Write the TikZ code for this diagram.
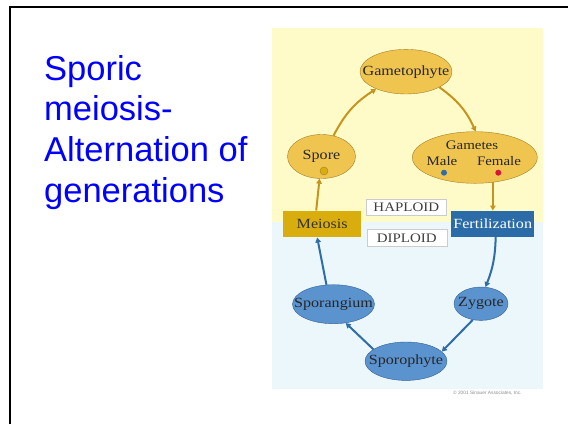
\documentclass[tikz,border=0pt]{standalone}
\usepackage{fontspec}
\setmainfont{Liberation Sans}
\newfontfamily\diagfont[FakeStretch=1.15]{Liberation Serif}
\usetikzlibrary{shapes.geometric,arrows.meta}
\definecolor{titleblue}{RGB}{0,0,255}
\definecolor{haploidbg}{RGB}{255,251,200}
\definecolor{diploidbg}{RGB}{236,247,252}
\definecolor{goldfill}{RGB}{239,197,80}
\definecolor{goldline}{RGB}{160,128,40}
\definecolor{golddark}{RGB}{217,173,14}
\definecolor{goldarrow}{RGB}{196,148,30}
\definecolor{bluefill}{RGB}{91,147,207}
\definecolor{blueline}{RGB}{50,95,145}
\definecolor{bluedark}{RGB}{43,108,168}
\definecolor{bluearrow}{RGB}{46,109,168}
\definecolor{femalered}{RGB}{215,20,60}
\newcommand{\fitin}[1]{\makebox[0pt][c]{#1}}
\tikzset{
  goldell/.style={ellipse, draw=goldline, fill=goldfill, inner sep=0pt, text=black!85, font=\diagfont\fontsize{14}{14}\selectfont},
  blueell/.style={ellipse, draw=blueline, fill=bluefill, inner sep=0pt, text=black!85, font=\diagfont\fontsize{14}{14}\selectfont},
  phasebox/.style={rectangle, draw=black!20, fill=white, inner sep=0pt, minimum width=80pt, text=black!75, font=\diagfont\fontsize{13}{13}\selectfont},
  stepbox/.style={rectangle, inner sep=0pt, font=\diagfont\fontsize{14}{14}\selectfont},
  goldflow/.style={draw=goldarrow, line width=2pt, -{Triangle[length=5pt,width=5.5pt]}},
  blueflow/.style={draw=bluearrow, line width=2pt, -{Triangle[length=5pt,width=5.5pt]}}
}
\begin{document}
\begin{tikzpicture}[x=1pt,y=-1pt]
	\useasboundingbox (0,0) rectangle (568,424);
	\draw[line width=2pt] (10.3,424) -- (10.3,7) -- (568,7);
	\node[anchor=north west, align=left, inner sep=0pt, text=titleblue, font=\fontsize{34.5}{40.6}\selectfont] (title) at (44,55) {Sporic\\meiosis-\\Alternation of\\generations};

	\fill[haploidbg] (272,28.3) rectangle (543.3,222);
	\fill[diploidbg] (272,222) rectangle (543.3,388.5);

	\node[goldell, minimum width=92pt, minimum height=44.6pt] (gam) at (406,71.7) {\fitin{Gametophyte}};
	\node[goldell, minimum width=68pt, minimum height=44pt] (spore) at (321.5,156.5) {\fitin{\raisebox{3pt}{Spore}}};
	\filldraw[fill=golddark, draw=goldline] (324,171) circle (4pt);
	\node[goldell, minimum width=125pt, minimum height=51.6pt] (gametes) at (474.8,157.5) {};
	\node[text=black!85, inner sep=0pt, font=\diagfont\fontsize{13}{13}\selectfont] (gametestext) at (472,145) {Gametes};
	\node[text=black!85, inner sep=0pt, font=\diagfont\fontsize{13}{13}\selectfont] (male) at (442,161) {Male};
	\node[text=black!85, inner sep=0pt, font=\diagfont\fontsize{13}{13}\selectfont] (female) at (499,161) {Female};
	\fill[bluearrow] (444,172.7) circle (3pt);
	\fill[femalered] (498.3,172.7) circle (3pt);

	\node[phasebox, minimum height=16pt] (haploid) at (406.3,207.5) {HAPLOID};
	\node[phasebox, minimum height=17pt] (diploid) at (406.7,238) {DIPLOID};
	\node[stepbox, fill=golddark, text=black!80, minimum width=77.7pt, minimum height=26.6pt] (meiosis) at (322.2,224) {Meiosis};
	\node[stepbox, fill=bluedark, text=white, minimum width=83.3pt, minimum height=26pt] (fert) at (492.7,223.7) {Fertilization};

	\node[blueell, minimum width=82pt, minimum height=39pt] (sporangium) at (333.5,304.2) {\fitin{Sporangium}};
	\node[blueell, minimum width=54pt, minimum height=33.4pt] (zygote) at (481,303.7) {\fitin{Zygote}};
	\node[blueell, minimum width=82pt, minimum height=38.4pt] (sporo) at (406,361.2) {\fitin{Sporophyte}};

	\draw[goldflow] (spore.60) to[bend left=15] (gam.210);
	\draw[goldflow] (gam.-25) to[bend left=15] (gametes.88);
	\draw[goldflow] (gametes.-54) -- (gametes.-54 |- fert.north);
	\draw[goldflow] ([xshift=-6pt]meiosis.north) -- (spore.-95);
	\draw[blueflow] ([xshift=3pt]fert.south) to[bend left=10] (zygote.75);
	\draw[blueflow] (zygote.243) -- (sporo.15);
	\draw[blueflow] (sporo.160) -- (sporangium.-57);
	\draw[blueflow] (sporangium.110) -- ([xshift=-5pt]meiosis.south);

	\node[anchor=west, inner sep=0pt, text=black!45, font=\fontsize{4.8}{5}\selectfont] (credit) at (453,393.5) {\textcopyright{} 2001 Sinauer Associates, Inc.};
\end{tikzpicture}
\end{document}
